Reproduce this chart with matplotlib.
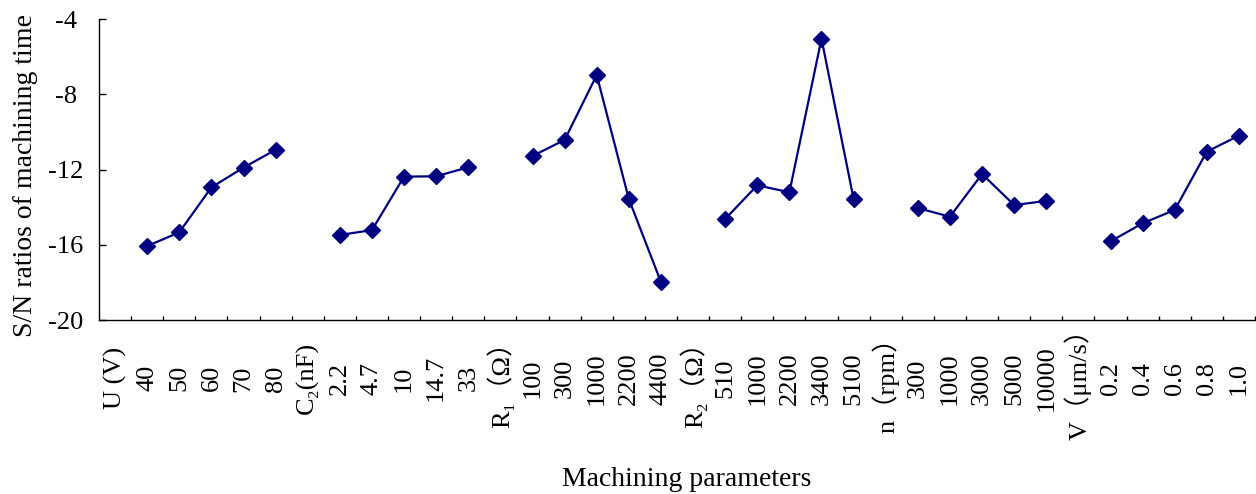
import matplotlib
matplotlib.use("Agg")
import matplotlib.pyplot as plt
import numpy as np

plt.rcParams['font.family'] = ['Liberation Serif', 'Noto Sans CJK SC', 'DejaVu Serif']

# group headers and level labels
headers = ["U (V)", "C\u2082(nF)", "R\u2081\uff08\u03a9\uff09", "R\u2082\uff08\u03a9\uff09",
           "n\uff08rpm\uff09", "V\uff08\u03bcm/s\uff09"]
levels = [
    ["40", "50", "60", "70", "80"],
    ["2.2", "4.7", "10", "14.7", "33"],
    ["100", "300", "1000", "2200", "4400"],
    ["510", "1000", "2200", "3400", "5100"],
    ["300", "1000", "3000", "5000", "10000"],
    ["0.2", "0.4", "0.6", "0.8", "1.0"],
]

# S/N ratios for each group
sn_U = [-16.07, -15.34, -12.95, -11.90, -10.95]
sn_C2 = [-15.48, -15.22, -12.38, -12.36, -11.88]
sn_R1 = [-11.28, -10.43, -6.98, -13.57, -17.98]
sn_R2 = [-14.63, -12.84, -13.21, -5.05, -13.57]
sn_n = [-14.05, -14.51, -12.24, -13.89, -13.67]
sn_V = [-15.82, -14.86, -14.15, -11.05, -10.20]

groups = [sn_U, sn_C2, sn_R1, sn_R2, sn_n, sn_V]

# category axis: header slot (no value) followed by the five levels
labels = []
values = []
for h, lv, g in zip(headers, levels, groups):
    labels.append(h)
    values.append(np.nan)
    labels.extend(lv)
    values.extend(g)
values = np.array(values)
x = np.arange(len(labels))

fig = plt.figure(figsize=(12.56, 4.94), dpi=100)
ax = fig.add_axes([99 / 1256, 174 / 494, 1156 / 1256, 301 / 494])

ax.plot(x, values, color='#000080', lw=1.6, marker='D', markersize=8,
        markerfacecolor='#000080', markeredgecolor='#000080')

ax.set_xlim(-0.5, len(labels) - 0.5)
ax.set_ylim(-20, -4)
ax.set_yticks([-4, -8, -12, -16, -20])
ax.set_yticklabels(['-4', '-8', '-12', '-16', '-20'], fontsize=19, ha='center')
ax.tick_params(axis='y', direction='in', length=5, width=1, pad=24)

ax.set_xticks(x)
ax.set_xticklabels(labels, fontsize=19, rotation=90, va='center', ha='center')
ax.set_xticks(np.arange(0.5, len(labels)), minor=True)
ax.tick_params(axis='x', which='major', length=0, pad=42)
ax.tick_params(axis='x', which='minor', direction='in', length=3, width=1)

for s in ['top', 'right']:
    ax.spines[s].set_visible(False)
for s in ['left', 'bottom']:
    ax.spines[s].set_linewidth(1)

ax.set_ylabel('S/N ratios of machining time', fontsize=20)
ax.yaxis.set_label_coords(-0.053, 0.48)
ax.set_xlabel('Machining parameters', fontsize=20)
ax.xaxis.set_label_coords(0.508, -0.49)

fig.savefig('out.png', dpi=100)
